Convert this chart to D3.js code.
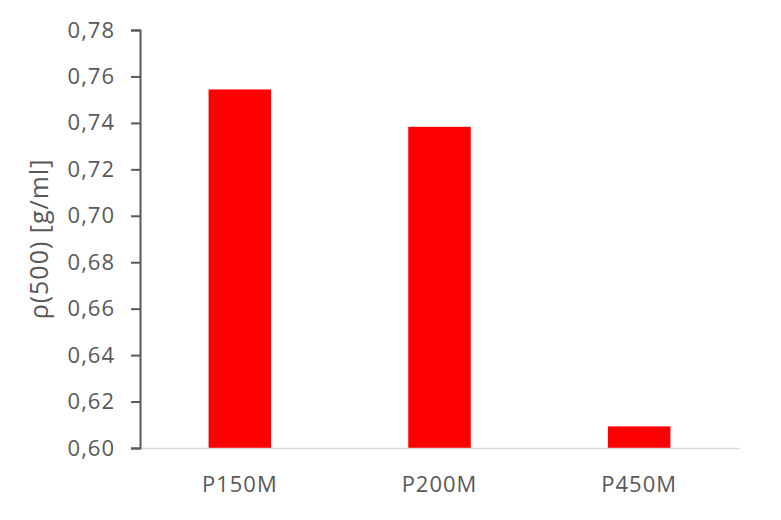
<!DOCTYPE html>
<html>
<head>
<meta charset="utf-8">
<script src="https://cdn.jsdelivr.net/npm/d3@7"></script>
<style>
  body { margin: 0; background: #ffffff; }
  svg text { font-family: 'Open Sans', 'Liberation Sans', sans-serif; }
</style>
</head>
<body>
<svg id="plot"></svg>
<script>
// Data
const categories = ["P150M", "P200M", "P450M"];
const densities = [0.7544, 0.7383, 0.6093];
const yTicks = [0.60, 0.62, 0.64, 0.66, 0.68, 0.70, 0.72, 0.74, 0.76, 0.78];

const W = 781, H = 520;
const margin = { top: 30, right: 42, bottom: 72, left: 140 };
const width = W - margin.left - margin.right;
const height = H - margin.top - margin.bottom;

const svg = d3.select("#plot")
    .attr("width", W)
    .attr("height", H);

const g = svg.append("g")
    .attr("transform", "translate(" + margin.left + "," + margin.top + ")");

// Scales
const x = d3.scaleBand()
    .domain(categories)
    .range([0, width])
    .paddingInner(0.687)
    .paddingOuter(0.3435);

const y = d3.scaleLinear()
    .domain([0.60, 0.78])
    .range([height, 0]);

const fmt = v => d3.format(".2f")(v).replace(".", ",");

// Bars
g.selectAll(".bar")
    .data(categories)
    .enter().append("rect")
    .attr("class", "bar")
    .attr("x", d => x(d))
    .attr("y", (d, i) => y(densities[i]))
    .attr("width", x.bandwidth())
    .attr("height", (d, i) => height - y(densities[i]))
    .attr("fill", "#ff0000");

// x-axis (light baseline, no ticks)
const xAxis = g.append("g")
    .attr("transform", "translate(0," + height + ")")
    .call(d3.axisBottom(x).tickSize(0));
xAxis.select(".domain").attr("stroke", "#d9d9d9").attr("stroke-width", 1.5);
xAxis.selectAll("text")
    .attr("y", 44)
    .attr("dy", 0)
    .attr("fill", "#595959")
    .style("font-size", "22px")
    .style("letter-spacing", "1px");

// y-axis
const yAxis = g.append("g")
    .call(d3.axisLeft(y).tickValues(yTicks).tickFormat(fmt).tickSize(9).tickSizeOuter(9).tickPadding(16));
yAxis.select(".domain").attr("stroke", "#595959").attr("stroke-width", 2);
yAxis.selectAll(".tick line").attr("stroke", "#595959").attr("stroke-width", 2);
yAxis.selectAll("text")
    .attr("fill", "#595959")
    .style("font-size", "22px")
    .style("letter-spacing", "1px");

// y-axis title
g.append("text")
    .attr("transform", "rotate(-90)")
    .attr("x", -height / 2)
    .attr("y", -92)
    .attr("text-anchor", "middle")
    .attr("fill", "#595959")
    .style("font-size", "25px")
    .style("letter-spacing", "1px")
    .text("ρ(500) [g/ml]");
</script>
</body>
</html>
